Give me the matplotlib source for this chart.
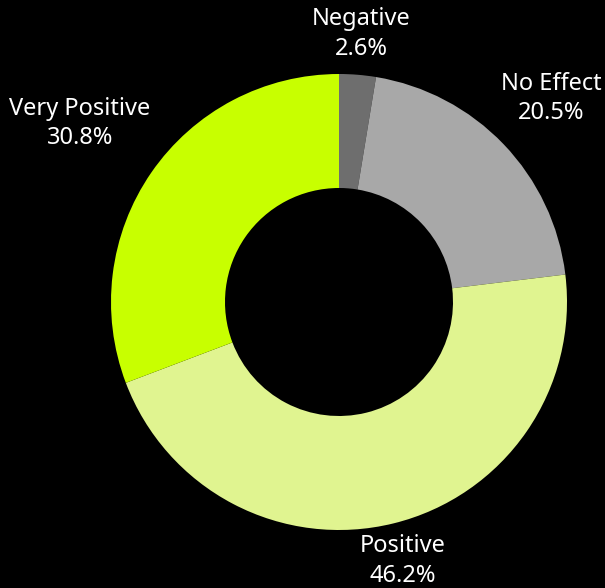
import numpy as np
import matplotlib.pyplot as plt

categories = ["Negative", "No Effect", "Positive", "Very Positive"]
shares = [2.6, 20.5, 46.2, 30.8]
colors = ["#6e6e6e", "#a8a8a8", "#e0f490", "#c8ff00"]
# how far out each label sits (in radii)
label_dist = [1.18, 1.29, 1.17, 1.38]

plt.rcParams["font.family"] = ["Noto Sans", "DejaVu Sans"]

fig = plt.figure(figsize=(6.05, 5.88), dpi=100, facecolor="black")
ax = fig.add_axes([0, 0, 1, 1])
ax.set_facecolor("black")

wedges, _ = ax.pie(shares, colors=colors, startangle=90, counterclock=False,
                   radius=1.0, wedgeprops=dict(width=0.5, linewidth=0))

for w, name, val, d in zip(wedges, categories, shares, label_dist):
    theta = np.deg2rad((w.theta1 + w.theta2) / 2)
    ax.text(d * np.cos(theta), d * np.sin(theta), f"{name}\n{val}%",
            ha="center", va="center", color="white", fontsize=17,
            linespacing=1.3, fontweight="light")

# centre at (339, 302) px, radius ~228 px
ax.set_xlim(-339 / 228, (605 - 339) / 228)
ax.set_ylim(-(588 - 302) / 228, 302 / 228)
ax.set_aspect("auto")
ax.axis("off")

fig.savefig("out.png", dpi=100, facecolor="black")
